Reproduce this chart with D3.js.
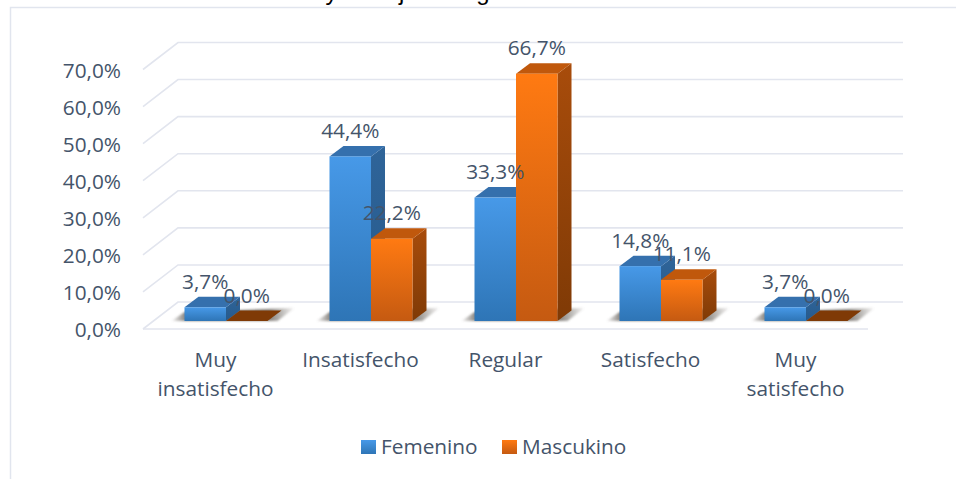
<!DOCTYPE html>
<html>
<head>
<meta charset="utf-8">
<script src="https://cdn.jsdelivr.net/npm/d3@7"></script>
<style>
  html, body { margin: 0; padding: 0; background: #fff; }
  svg { display: block; }
  text { font-family: "Open Sans", sans-serif; fill: #44546a; }
</style>
</head>
<body>
<div id="chart"></div>
<script>
const categories = ["Muy insatisfecho", "Insatisfecho", "Regular", "Satisfecho", "Muy satisfecho"];
const seriesNames = ["Femenino", "Mascukino"];
const femenino = [3.7, 44.4, 33.3, 14.8, 3.7];
const masculino = [0.0, 22.2, 66.7, 11.1, 0.0];
const yTicks = [0, 10, 20, 30, 40, 50, 60, 70];

const width = 956, height = 479;
// depth of the chart floor, and depth of one bar
const floorDx = 35, floorDy = -27;
const barDx = 14, barDy = -10.5;
const fontSize = "20.8px";

const svg = d3.select("#chart").append("svg")
    .attr("width", width)
    .attr("height", height);

const defs = svg.append("defs");
function gradient(id, top, bottom) {
    const g = defs.append("linearGradient").attr("id", id)
        .attr("x1", 0).attr("y1", 0).attr("x2", 0).attr("y2", 1);
    g.append("stop").attr("offset", "0%").attr("stop-color", top);
    g.append("stop").attr("offset", "100%").attr("stop-color", bottom);
}
gradient("front0", "#4799e8", "#2e75b6");
gradient("front1", "#ff7a12", "#c55a11");
gradient("side0", "#2f6499", "#265a8c");
gradient("side1", "#a84c0b", "#7f3a06");
defs.append("filter").attr("id", "soft").append("feGaussianBlur").attr("stdDeviation", 1.2);

// floor shadow fades out at both ends
const shadowGrad = defs.append("linearGradient").attr("id", "shadow");
shadowGrad.append("stop").attr("offset", "0%").attr("stop-color", "#6b6660").attr("stop-opacity", 0.05);
shadowGrad.append("stop").attr("offset", "12%").attr("stop-color", "#6b6660").attr("stop-opacity", 0.85);
shadowGrad.append("stop").attr("offset", "80%").attr("stop-color", "#6b6660").attr("stop-opacity", 0.8);
shadowGrad.append("stop").attr("offset", "100%").attr("stop-color", "#6b6660").attr("stop-opacity", 0.05);

const x = d3.scaleBand().domain(categories).range([143, 868]);
const y = d3.scaleLinear().domain([0, 70]).range([329, 69.5]);
const xInner = d3.scaleBand().domain(seriesNames).range([-41.5, 41.5]);
const values = [femenino, masculino];

// outer frame, only the top and left edges show in the crop
svg.append("path")
    .attr("d", "M10.5,479V7.5H956")
    .attr("fill", "none")
    .attr("stroke", "#e1e5ee")
    .attr("stroke-width", 1.5);

// title is cut off by the top of the picture, only descenders show
svg.append("text")
    .attr("x", 511)
    .attr("y", 0)
    .attr("text-anchor", "end")
    .style("font-family", "Liberation Sans")
    .style("font-size", "24px")
    .style("fill", "#000")
    .text("Satisfacción laboral y trabajo en lugar");

// gridlines
const grid = svg.append("g")
    .attr("fill", "none")
    .attr("stroke", "#e2e5ee")
    .attr("stroke-width", 1.6);
grid.selectAll("path")
    .data(yTicks)
    .join("path")
    .attr("d", d => {
        const p = d3.path();
        p.moveTo(143, y(d));
        p.lineTo(143 + floorDx, y(d) + floorDy);
        p.lineTo(868 + floorDx, y(d) + floorDy);
        return p.toString();
    });
grid.append("line")
    .attr("x1", 143).attr("x2", 868)
    .attr("y1", y(0)).attr("y2", y(0));

// y axis labels
svg.append("g").selectAll("text")
    .data(yTicks)
    .join("text")
    .attr("x", 121)
    .attr("y", d => y(d) + 8)
    .attr("text-anchor", "end")
    .style("font-size", fontSize)
    .text(d => d.toFixed(1).replace(".", ",") + "%");

// bars
const floorOffsetX = 10.5, floorOffsetY = -8;
const barData = [];
categories.forEach((c, i) => {
    seriesNames.forEach((s, j) => {
        barData.push({ cat: c, series: s, idx: j, value: values[j][i] });
    });
});
const bars = svg.append("g");

function bx(d) { return x(d.cat) + x.bandwidth() / 2 + xInner(d.series) + floorOffsetX; }
function by(v) { return y(v) + floorOffsetY; }

const w = xInner.bandwidth();

// shadow on the floor first
categories.forEach(c => {
    const x0 = x(c) + x.bandwidth() / 2 + xInner(seriesNames[0]) + floorOffsetX;
    const x1 = x0 + w * 2;
    const base = by(0);
    bars.append("path")
        .attr("d", `M${x0 - 13},${base}L${x0},${base - 9}L${x1 + 27},${base - 13}L${x1 + 10},${base}Z`)
        .attr("fill", "url(#shadow)")
        .attr("filter", "url(#soft)");
});

bars.selectAll("g.bar")
    .data(barData)
    .join("g")
    .attr("class", "bar")
    .each(function(d) {
        const g = d3.select(this);
        const left = bx(d), top = by(d.value), base = by(0);
        if (d.value > 0) {
            // side face
            g.append("path")
                .attr("d", `M${left + w},${top}l${barDx},${barDy}V${base + barDy}l${-barDx},${-barDy}Z`)
                .attr("fill", `url(#side${d.idx})`);
            // top face
            g.append("path")
                .attr("d", `M${left},${top}l${barDx},${barDy}h${w}l${-barDx},${-barDy}Z`)
                .attr("fill", d.idx === 0 ? "#3570ad" : "#c0580c");
            // front face
            g.append("rect")
                .attr("x", left).attr("y", top)
                .attr("width", w).attr("height", base - top)
                .attr("fill", `url(#front${d.idx})`);
        } else {
            // zero bar is only a flat lid
            g.append("path")
                .attr("d", `M${left},${top}l${barDx},${barDy}h${w}l${-barDx},${-barDy}Z`)
                .attr("fill", "#7f3a06");
        }
    });

// data labels sit on top of everything
svg.append("g").selectAll("text")
    .data(barData)
    .join("text")
    .attr("x", d => bx(d) + w / 2)
    .attr("y", d => by(d.value) - 18.5)
    .attr("text-anchor", "middle")
    .style("font-size", fontSize)
    .text(d => d.value.toFixed(1).replace(".", ",") + "%");

// category labels, wrapped on the space for the two word ones
const catLabels = svg.append("g").selectAll("text")
    .data(categories)
    .join("text")
    .attr("text-anchor", "middle")
    .attr("y", 367)
    .style("font-size", fontSize);
catLabels.selectAll("tspan")
    .data(d => d.split(" ").map(t => ({ t, cat: d })))
    .join("tspan")
    .attr("x", d => x(d.cat) + x.bandwidth() / 2)
    .attr("dy", (d, i) => i ? 29 : 0)
    .text(d => d.t);

// legend
const legendX = [361, 502];
const legend = svg.append("g").selectAll("g")
    .data(seriesNames)
    .join("g")
    .attr("transform", (d, i) => `translate(${legendX[i]},440)`);
legend.append("rect")
    .attr("width", 15).attr("height", 14)
    .attr("fill", (d, i) => `url(#front${i})`);
legend.append("text")
    .attr("x", 20).attr("y", 14)
    .style("font-size", fontSize)
    .text(d => d);
</script>
</body>
</html>
